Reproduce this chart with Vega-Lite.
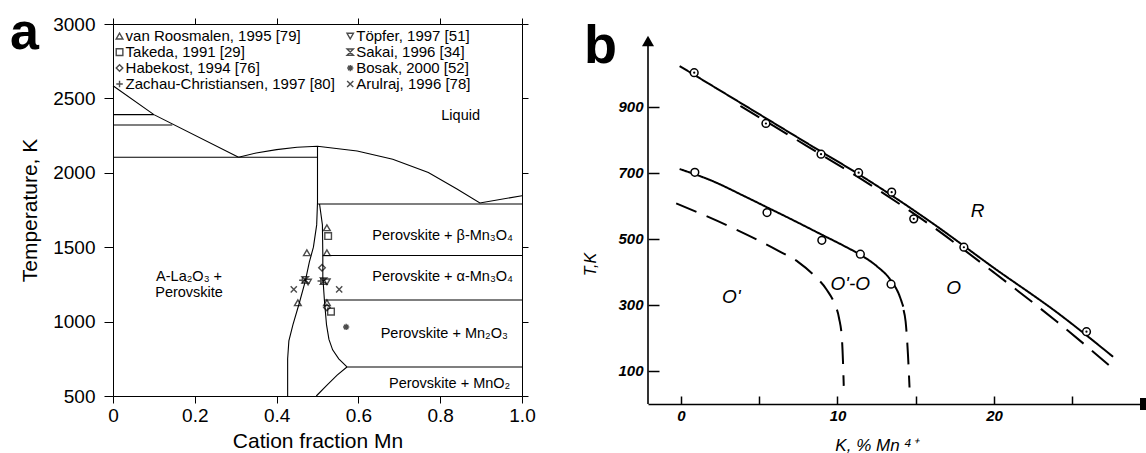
{
  "$schema": "https://vega.github.io/schema/vega-lite/v6.json",
  "background": "white",
  "padding": {"left": 9, "top": 6, "right": 0, "bottom": 0},
  "bounds": "flush",
  "spacing": 126,
  "config": {
    "view": {"stroke": null},
    "font": "Liberation Sans",
    "axis": {"grid": false, "domainColor": "black", "tickColor": "black", "labelColor": "black", "titleColor": "black", "labelFont": "Liberation Sans", "titleFont": "Liberation Sans", "titleFontWeight": "normal"}
  },
  "datasets": {
    "linesA": [
      {"s": "liqL", "i": 0, "x": 0, "T": 2585}, {"s": "liqL", "i": 1, "x": 0.1, "T": 2391}, {"s": "liqL", "i": 2, "x": 0.307, "T": 2105},
      {"s": "h2390", "i": 0, "x": 0, "T": 2391}, {"s": "h2390", "i": 1, "x": 0.1, "T": 2391},
      {"s": "h2320", "i": 0, "x": 0, "T": 2321}, {"s": "h2320", "i": 1, "x": 0.145, "T": 2321},
      {"s": "h2105", "i": 0, "x": 0, "T": 2105}, {"s": "h2105", "i": 1, "x": 0.5, "T": 2105},
      {"s": "dome", "i": 0, "x": 0.307, "T": 2105}, {"s": "dome", "i": 1, "x": 0.35, "T": 2133}, {"s": "dome", "i": 2, "x": 0.4, "T": 2156}, {"s": "dome", "i": 3, "x": 0.45, "T": 2172}, {"s": "dome", "i": 4, "x": 0.5, "T": 2178}, {"s": "dome", "i": 5, "x": 0.597, "T": 2147}, {"s": "dome", "i": 6, "x": 0.684, "T": 2091}, {"s": "dome", "i": 7, "x": 0.771, "T": 2002}, {"s": "dome", "i": 8, "x": 0.841, "T": 1891}, {"s": "dome", "i": 9, "x": 0.897, "T": 1797}, {"s": "dome", "i": 10, "x": 1.0, "T": 1846},
      {"s": "LB", "i": 0, "x": 0.5, "T": 2178}, {"s": "LB", "i": 1, "x": 0.5, "T": 1800}, {"s": "LB", "i": 2, "x": 0.498, "T": 1650}, {"s": "LB", "i": 3, "x": 0.49, "T": 1500}, {"s": "LB", "i": 4, "x": 0.48, "T": 1400}, {"s": "LB", "i": 5, "x": 0.47, "T": 1270}, {"s": "LB", "i": 6, "x": 0.455, "T": 1120}, {"s": "LB", "i": 7, "x": 0.44, "T": 980}, {"s": "LB", "i": 8, "x": 0.43, "T": 870}, {"s": "LB", "i": 9, "x": 0.427, "T": 750}, {"s": "LB", "i": 10, "x": 0.427, "T": 500},
      {"s": "RB", "i": 0, "x": 0.505, "T": 1790}, {"s": "RB", "i": 1, "x": 0.512, "T": 1650}, {"s": "RB", "i": 2, "x": 0.513, "T": 1450}, {"s": "RB", "i": 3, "x": 0.513, "T": 1300}, {"s": "RB", "i": 4, "x": 0.517, "T": 1140}, {"s": "RB", "i": 5, "x": 0.522, "T": 980}, {"s": "RB", "i": 6, "x": 0.528, "T": 880}, {"s": "RB", "i": 7, "x": 0.537, "T": 810}, {"s": "RB", "i": 8, "x": 0.552, "T": 750}, {"s": "RB", "i": 9, "x": 0.572, "T": 695},
      {"s": "low", "i": 0, "x": 0.572, "T": 695}, {"s": "low", "i": 1, "x": 0.548, "T": 640}, {"s": "low", "i": 2, "x": 0.522, "T": 570}, {"s": "low", "i": 3, "x": 0.497, "T": 500},
      {"s": "h1790", "i": 0, "x": 0.5, "T": 1790}, {"s": "h1790", "i": 1, "x": 1.0, "T": 1790},
      {"s": "h1444", "i": 0, "x": 0.513, "T": 1444}, {"s": "h1444", "i": 1, "x": 1.0, "T": 1444},
      {"s": "h1145", "i": 0, "x": 0.517, "T": 1145}, {"s": "h1145", "i": 1, "x": 1.0, "T": 1145},
      {"s": "h695", "i": 0, "x": 0.572, "T": 695}, {"s": "h695", "i": 1, "x": 1.0, "T": 695}
    ],
    "markersA": [
      {"src": "vR", "x": 0.523, "T": 1631}, {"src": "vR", "x": 0.474, "T": 1463}, {"src": "vR", "x": 0.523, "T": 1463}, {"src": "vR", "x": 0.452, "T": 1127}, {"src": "vR", "x": 0.523, "T": 1127},
      {"src": "Tk", "x": 0.526, "T": 1575}, {"src": "Tk", "x": 0.533, "T": 1067},
      {"src": "Hb", "x": 0.511, "T": 1362}, {"src": "Hb", "x": 0.523, "T": 1095},
      {"src": "ZC", "x": 0.463, "T": 1278}, {"src": "ZC", "x": 0.508, "T": 1273},
      {"src": "Tp", "x": 0.477, "T": 1266}, {"src": "Tp", "x": 0.523, "T": 1268},
      {"src": "Sk", "x": 0.47, "T": 1280}, {"src": "Sk", "x": 0.515, "T": 1272},
      {"src": "Bs", "x": 0.57, "T": 964},
      {"src": "Ar", "x": 0.442, "T": 1217}, {"src": "Ar", "x": 0.553, "T": 1217}
    ],
    "legendA": [
      {"src": "vR", "x": 0.016, "T": 2919, "label": "van Roosmalen, 1995 [79]"},
      {"src": "Tk", "x": 0.016, "T": 2811, "label": "Takeda, 1991 [29]"},
      {"src": "Hb", "x": 0.016, "T": 2704, "label": "Habekost, 1994 [76]"},
      {"src": "ZC", "x": 0.016, "T": 2597, "label": "Zachau-Christiansen, 1997 [80]"},
      {"src": "Tp", "x": 0.58, "T": 2919, "label": "Töpfer, 1997 [51]"},
      {"src": "Sk", "x": 0.58, "T": 2811, "label": "Sakai, 1996 [34]"},
      {"src": "Bs", "x": 0.58, "T": 2704, "label": "Bosak, 2000 [52]"},
      {"src": "Ar", "x": 0.58, "T": 2597, "label": "Arulraj, 1996 [78]"}
    ],
    "regionsA": [
      {"x": 0.85, "T": 2380, "label": "Liquid"},
      {"x": 0.806, "T": 1578, "label": "Perovskite + β-Mn₃O₄"},
      {"x": 0.806, "T": 1299, "label": "Perovskite + α-Mn₃O₄"},
      {"x": 0.81, "T": 918, "label": "Perovskite + Mn₂O₃"},
      {"x": 0.823, "T": 583, "label": "Perovskite + MnO₂"},
      {"x": 0.186, "T": 1300, "label": "A-La₂O₃ +"},
      {"x": 0.186, "T": 1192, "label": "Perovskite"}
    ],
    "tagA": [{"x": -0.252, "T": 2832, "label": "a"}],
    "linesB": [
      {"s": "R", "st": "solid", "i": 0, "K": -0.08, "T": 1024}, {"s": "R", "st": "solid", "i": 1, "K": 4, "T": 907}, {"s": "R", "st": "solid", "i": 2, "K": 8, "T": 792}, {"s": "R", "st": "solid", "i": 3, "K": 12, "T": 677}, {"s": "R", "st": "solid", "i": 4, "K": 16, "T": 550}, {"s": "R", "st": "solid", "i": 5, "K": 20, "T": 412}, {"s": "R", "st": "solid", "i": 6, "K": 24, "T": 278}, {"s": "R", "st": "solid", "i": 7, "K": 27.6, "T": 143},
      {"s": "Rd", "st": "dashed", "i": 0, "K": 3.8, "T": 903}, {"s": "Rd", "st": "dashed", "i": 1, "K": 8, "T": 783}, {"s": "Rd", "st": "dashed", "i": 2, "K": 12, "T": 667}, {"s": "Rd", "st": "dashed", "i": 3, "K": 14, "T": 605}, {"s": "Rd", "st": "dashed", "i": 4, "K": 16, "T": 540}, {"s": "Rd", "st": "dashed", "i": 5, "K": 18, "T": 470}, {"s": "Rd", "st": "dashed", "i": 6, "K": 20, "T": 398}, {"s": "Rd", "st": "dashed", "i": 7, "K": 22, "T": 325}, {"s": "Rd", "st": "dashed", "i": 8, "K": 24, "T": 250}, {"s": "Rd", "st": "dashed", "i": 9, "K": 27.4, "T": 115},
      {"s": "O", "st": "solid", "i": 0, "K": -0.08, "T": 712}, {"s": "O", "st": "solid", "i": 1, "K": 2, "T": 676}, {"s": "O", "st": "solid", "i": 2, "K": 4, "T": 631}, {"s": "O", "st": "solid", "i": 3, "K": 5.5, "T": 596}, {"s": "O", "st": "solid", "i": 4, "K": 7, "T": 561}, {"s": "O", "st": "solid", "i": 5, "K": 9, "T": 513}, {"s": "O", "st": "solid", "i": 6, "K": 10.5, "T": 477}, {"s": "O", "st": "solid", "i": 7, "K": 11.5, "T": 451}, {"s": "O", "st": "solid", "i": 8, "K": 12.5, "T": 418}, {"s": "O", "st": "solid", "i": 9, "K": 13.4, "T": 375}, {"s": "O", "st": "solid", "i": 10, "K": 13.9, "T": 335}, {"s": "O", "st": "solid", "i": 11, "K": 14.2, "T": 295},
      {"s": "Od", "st": "dashed", "i": 0, "K": 14.22, "T": 285}, {"s": "Od", "st": "dashed", "i": 1, "K": 14.35, "T": 250}, {"s": "Od", "st": "dashed", "i": 2, "K": 14.5, "T": 150}, {"s": "Od", "st": "dashed", "i": 3, "K": 14.6, "T": 50},
      {"s": "Op", "st": "dashed", "i": 0, "K": -0.3, "T": 608}, {"s": "Op", "st": "dashed", "i": 1, "K": 1.5, "T": 572}, {"s": "Op", "st": "dashed", "i": 2, "K": 3.6, "T": 527}, {"s": "Op", "st": "dashed", "i": 3, "K": 6.2, "T": 465}, {"s": "Op", "st": "dashed", "i": 4, "K": 7.5, "T": 430}, {"s": "Op", "st": "dashed", "i": 5, "K": 8.5, "T": 390}, {"s": "Op", "st": "dashed", "i": 6, "K": 9.3, "T": 347}, {"s": "Op", "st": "dashed", "i": 7, "K": 9.8, "T": 305}, {"s": "Op", "st": "dashed", "i": 8, "K": 10.1, "T": 260}, {"s": "Op", "st": "dashed", "i": 9, "K": 10.28, "T": 200}, {"s": "Op", "st": "dashed", "i": 10, "K": 10.35, "T": 130}, {"s": "Op", "st": "dashed", "i": 11, "K": 10.4, "T": 55}
    ],
    "circlesB": [
      {"grp": "up", "K": 0.85, "T": 1004}, {"grp": "up", "K": 5.43, "T": 850}, {"grp": "up", "K": 8.95, "T": 757}, {"grp": "up", "K": 11.35, "T": 701}, {"grp": "up", "K": 13.46, "T": 642}, {"grp": "up", "K": 14.87, "T": 561}, {"grp": "up", "K": 18.07, "T": 475}, {"grp": "up", "K": 25.9, "T": 219},
      {"grp": "lo", "K": 0.89, "T": 702}, {"grp": "lo", "K": 5.5, "T": 580}, {"grp": "lo", "K": 9.0, "T": 496}, {"grp": "lo", "K": 11.46, "T": 454}, {"grp": "lo", "K": 13.42, "T": 363}
    ],
    "labelsB": [
      {"K": 18.94, "T": 586, "label": "R"},
      {"K": 17.41, "T": 353, "label": "O"},
      {"K": 10.82, "T": 363, "label": "O'-O"},
      {"K": 3.22, "T": 323, "label": "O'"}
    ],
    "yAxisB": [{"K": -2.1, "T0": 0, "T1": 1100}],
    "arrowsB": [{"K": -2.1, "T": 1100, "dir": "up"}, {"K": 29.7, "T": 0, "dir": "right"}],
    "tagB": [{"K": -6.19, "T": 1033, "label": "b"}]
  },
  "hconcat": [
    {
      "width": 409,
      "height": 372,
      "layer": [
        {
          "data": {"name": "linesA"},
          "mark": {"type": "line", "color": "black", "strokeWidth": 1.1},
          "encoding": {
            "x": {"field": "x", "type": "quantitative", "scale": {"domain": [0, 1], "nice": false, "zero": false},
              "axis": {"orient": "bottom", "values": [0, 0.2, 0.4, 0.6, 0.8, 1], "labelExpr": "datum.value == 0 ? '0' : format(datum.value, '.1f')", "title": "Cation fraction Mn", "labelFontSize": 19, "titleFontSize": 21, "tickSize": 7, "labelPadding": 3, "titlePadding": 5, "labelFlush": false}},
            "y": {"field": "T", "type": "quantitative", "scale": {"domain": [500, 3000], "nice": false, "zero": false},
              "axis": {"orient": "left", "values": [500, 1000, 1500, 2000, 2500, 3000], "format": "d", "title": "Temperature, K", "labelFontSize": 19, "titleFontSize": 21, "tickSize": 9, "labelPadding": 9, "titlePadding": 12, "labelFlush": false}},
            "detail": {"field": "s"},
            "order": {"field": "i"}
          }
        },
        {
          "data": {"name": "markersA"},
          "mark": {"type": "point", "filled": false, "color": "black", "strokeWidth": 1.4},
          "encoding": {
            "x": {"field": "x", "type": "quantitative", "axis": {"orient": "top", "values": [0, 0.2, 0.4, 0.6, 0.8, 1], "labels": false, "title": null, "tickSize": 6}},
            "y": {"field": "T", "type": "quantitative", "axis": {"orient": "right", "values": [500, 1000, 1500, 2000, 2500, 3000], "labels": false, "title": null, "tickSize": 6}},
            "shape": {"field": "src", "type": "nominal", "legend": null, "scale": {"domain": ["vR", "Tk", "Hb", "ZC", "Tp", "Sk", "Bs", "Ar"], "range": ["triangle-up", "square", "diamond", "M-1,0L1,0M0,-1L0,1", "triangle-down", "M-1,-1L1,-1L-1,1L1,1Z", "M-1,0L1,0M0,-1L0,1M-0.7,-0.7L0.7,0.7M-0.7,0.7L0.7,-0.7", "M-1,-1L1,1M-1,1L1,-1"]}},
            "size": {"field": "src", "type": "nominal", "legend": null, "scale": {"domain": ["vR", "Tk", "Hb", "ZC", "Tp", "Sk", "Bs", "Ar"], "range": [45, 38, 45, 50, 45, 38, 40, 75]}}
          }
        },
        {
          "data": {"name": "legendA"},
          "mark": {"type": "point", "filled": false, "color": "black", "strokeWidth": 1.4},
          "encoding": {
            "x": {"field": "x", "type": "quantitative", "axis": null},
            "y": {"field": "T", "type": "quantitative", "axis": null},
            "shape": {"field": "src", "type": "nominal", "legend": null, "scale": {"domain": ["vR", "Tk", "Hb", "ZC", "Tp", "Sk", "Bs", "Ar"], "range": ["triangle-up", "square", "diamond", "M-1,0L1,0M0,-1L0,1", "triangle-down", "M-1,-1L1,-1L-1,1L1,1Z", "M-1,0L1,0M0,-1L0,1M-0.7,-0.7L0.7,0.7M-0.7,0.7L0.7,-0.7", "M-1,-1L1,1M-1,1L1,-1"]}},
            "size": {"field": "src", "type": "nominal", "legend": null, "scale": {"domain": ["vR", "Tk", "Hb", "ZC", "Tp", "Sk", "Bs", "Ar"], "range": [32, 30, 32, 38, 32, 30, 30, 55]}}
          }
        },
        {
          "data": {"name": "legendA"},
          "mark": {"type": "text", "align": "left", "baseline": "middle", "dx": 6, "fontSize": 15, "font": "Liberation Sans", "color": "black"},
          "encoding": {
            "x": {"field": "x", "type": "quantitative", "axis": null},
            "y": {"field": "T", "type": "quantitative", "axis": null},
            "text": {"field": "label"}
          }
        },
        {
          "data": {"name": "regionsA"},
          "mark": {"type": "text", "align": "center", "baseline": "middle", "fontSize": 14.5, "font": "Liberation Sans", "color": "black"},
          "encoding": {
            "x": {"field": "x", "type": "quantitative", "axis": null},
            "y": {"field": "T", "type": "quantitative", "axis": null},
            "text": {"field": "label"}
          }
        },
        {
          "data": {"name": "tagA"},
          "mark": {"type": "text", "align": "left", "baseline": "alphabetic", "fontSize": 52, "fontWeight": "bold", "font": "Liberation Sans", "color": "black"},
          "encoding": {
            "x": {"field": "x", "type": "quantitative", "axis": null},
            "y": {"field": "T", "type": "quantitative", "axis": null},
            "text": {"field": "label"}
          }
        }
      ],
      "resolve": {"axis": {"x": "independent", "y": "independent"}}
    },
    {
      "width": 498,
      "height": 380,
      "layer": [
        {
          "data": {"name": "linesB"},
          "mark": {"type": "line", "color": "black", "strokeWidth": 2, "interpolate": "monotone"},
          "encoding": {
            "x": {"field": "K", "type": "quantitative", "scale": {"domain": [-2.1, 29.7], "nice": false, "zero": false},
              "axis": {"orient": "bottom", "values": [0, 5, 10, 15, 20, 25], "labelExpr": "datum.value % 10 == 0 ? datum.label : ''", "title": "K, % Mn ⁴⁺", "labelFontSize": 15, "labelFontStyle": "italic", "labelFontWeight": "bold", "titleFontSize": 17, "titleFontStyle": "italic", "tickSize": -8, "tickWidth": 1.5, "labelPadding": 12, "titleX": 228, "titleY": 46, "titleBaseline": "alphabetic", "domainWidth": 1.6, "labelFlush": false}},
            "y": {"field": "T", "type": "quantitative", "scale": {"domain": [0, 1151.5], "nice": false, "zero": false},
              "axis": {"orient": "left", "values": [100, 300, 500, 700, 900], "domain": false, "title": "T,K", "labelFontSize": 15, "labelFontStyle": "italic", "labelFontWeight": "bold", "titleFontSize": 16, "titleFontStyle": "italic", "tickSize": -11, "tickWidth": 1.5, "labelPadding": 16, "titleX": -50, "titleY": 240, "titleAngle": -90, "titleBaseline": "bottom", "labelFlush": false}},
            "strokeDash": {"field": "st", "type": "nominal", "legend": null, "scale": {"domain": ["solid", "dashed"], "range": [[1, 0], [22, 11]]}},
            "detail": {"field": "s"},
            "order": {"field": "i"}
          }
        },
        {
          "data": {"name": "yAxisB"},
          "mark": {"type": "rule", "color": "black", "strokeWidth": 1.6},
          "encoding": {
            "x": {"field": "K", "type": "quantitative"},
            "y": {"field": "T0", "type": "quantitative"},
            "y2": {"field": "T1"}
          }
        },
        {
          "data": {"name": "arrowsB"},
          "mark": {"type": "point", "filled": true, "color": "black", "size": 144, "opacity": 1},
          "encoding": {
            "x": {"field": "K", "type": "quantitative"},
            "y": {"field": "T", "type": "quantitative"},
            "shape": {"field": "dir", "type": "nominal", "legend": null, "scale": {"domain": ["up", "right"], "range": ["M0,0L0.5,2.1L-0.5,2.1Z", "M0,0L-2.3,-0.5L-2.3,0.5Z"]}}
          }
        },
        {
          "data": {"name": "circlesB"},
          "mark": {"type": "point", "shape": "circle", "filled": true, "fill": "white", "stroke": "black", "strokeWidth": 1.5, "size": 60, "opacity": 1},
          "encoding": {
            "x": {"field": "K", "type": "quantitative"},
            "y": {"field": "T", "type": "quantitative"}
          }
        },
        {
          "data": {"name": "circlesB"},
          "transform": [{"filter": "datum.grp == 'up'"}],
          "mark": {"type": "point", "shape": "circle", "filled": true, "color": "black", "size": 5, "opacity": 1},
          "encoding": {
            "x": {"field": "K", "type": "quantitative"},
            "y": {"field": "T", "type": "quantitative"}
          }
        },
        {
          "data": {"name": "labelsB"},
          "mark": {"type": "text", "align": "center", "baseline": "middle", "fontSize": 19, "fontStyle": "italic", "font": "Liberation Sans", "color": "black"},
          "encoding": {
            "x": {"field": "K", "type": "quantitative"},
            "y": {"field": "T", "type": "quantitative"},
            "text": {"field": "label"}
          }
        },
        {
          "data": {"name": "tagB"},
          "mark": {"type": "text", "align": "left", "baseline": "alphabetic", "fontSize": 54, "fontWeight": "bold", "font": "Liberation Sans", "color": "black"},
          "encoding": {
            "x": {"field": "K", "type": "quantitative"},
            "y": {"field": "T", "type": "quantitative"},
            "text": {"field": "label"}
          }
        }
      ]
    }
  ]
}
